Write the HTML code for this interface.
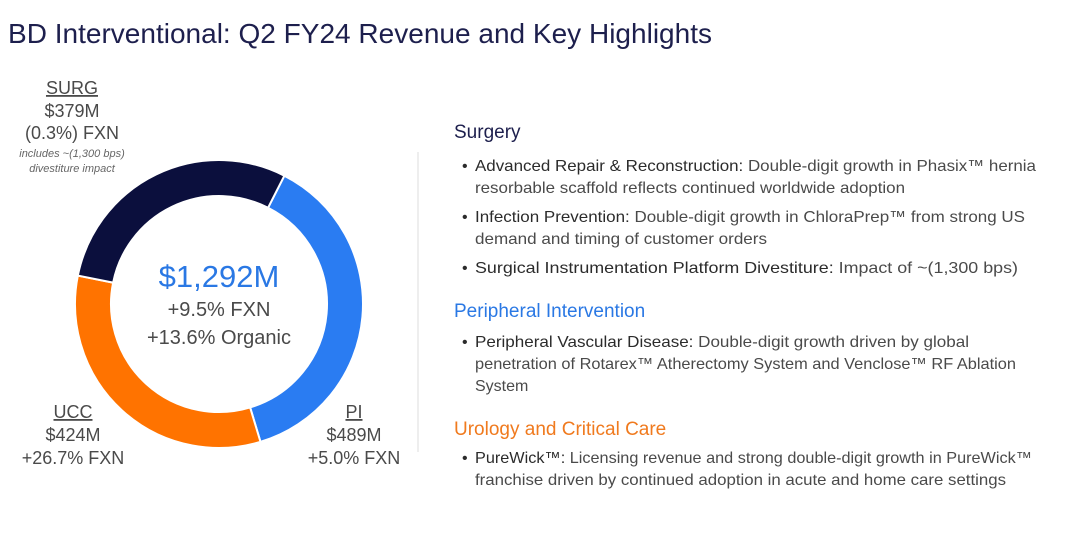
<!DOCTYPE html>
<html><head><meta charset="utf-8"><style>
html,body{margin:0;padding:0;background:#fff;}
svg{display:block;font-family:"Liberation Sans",sans-serif;}
.g{fill:#4a4a4a;}
.b{fill:#2b2b2b;}
</style></head><body>
<svg id="chart" width="1080" height="548" viewBox="0 0 1080 548">
<text x="8" y="43" font-size="28" fill="#1d1f4d" textLength="704" lengthAdjust="spacingAndGlyphs">BD Interventional: Q2 FY24 Revenue and Key Highlights</text>
<g id="donut"></g>
<g text-anchor="middle">
<text x="72" y="94" font-size="18" class="g" text-decoration="underline">SURG</text>
<text x="72" y="117" font-size="18" class="g">$379M</text>
<text x="72" y="139" font-size="18" class="g">(0.3%) FXN</text>
<text x="72" y="157" font-size="11" font-style="italic" fill="#666">includes ~(1,300 bps)</text>
<text x="72" y="172" font-size="11" font-style="italic" fill="#666">divestiture impact</text>
</g>
<g text-anchor="middle">
<text x="219" y="287" font-size="31" fill="#2a78e4">$1,292M</text>
<text x="219" y="316" font-size="20" class="g">+9.5% FXN</text>
<text x="219" y="344" font-size="20" class="g">+13.6% Organic</text>
</g>
<g text-anchor="middle">
<text x="73" y="418" font-size="18" class="g" text-decoration="underline">UCC</text>
<text x="73" y="441" font-size="18" class="g">$424M</text>
<text x="73" y="464" font-size="18" class="g">+26.7% FXN</text>
</g>
<g text-anchor="middle">
<text x="354" y="418" font-size="18" class="g" text-decoration="underline">PI</text>
<text x="354" y="441" font-size="18" class="g">$489M</text>
<text x="354" y="464" font-size="18" class="g">+5.0% FXN</text>
</g>
<rect x="417" y="152" width="2" height="300" fill="#eeeeee"/>
<g font-size="16">
<text x="454" y="138" font-size="19" fill="#1d1f4d">Surgery</text>
<text x="462" y="171" class="b">•</text>
<text x="475" y="171" class="g" textLength="561" lengthAdjust="spacingAndGlyphs"><tspan class="b">Advanced Repair &amp; Reconstruction:</tspan> Double-digit growth in Phasix™ hernia</text>
<text x="475" y="193" class="g" textLength="430" lengthAdjust="spacingAndGlyphs">resorbable scaffold reflects continued worldwide adoption</text>
<text x="462" y="222" class="b">•</text>
<text x="475" y="222" class="g" textLength="550" lengthAdjust="spacingAndGlyphs"><tspan class="b">Infection Prevention:</tspan> Double-digit growth in ChloraPrep™ from strong US</text>
<text x="475" y="244" class="g" textLength="292" lengthAdjust="spacingAndGlyphs">demand and timing of customer orders</text>
<text x="462" y="273" class="b">•</text>
<text x="475" y="273" class="g" textLength="543" lengthAdjust="spacingAndGlyphs"><tspan class="b">Surgical Instrumentation Platform Divestiture:</tspan> Impact of ~(1,300 bps)</text>
<text x="454" y="317" font-size="19" fill="#2a78e4">Peripheral Intervention</text>
<text x="462" y="347" class="b">•</text>
<text x="475" y="347" class="g" textLength="494" lengthAdjust="spacingAndGlyphs"><tspan class="b">Peripheral Vascular Disease:</tspan> Double-digit growth driven by global</text>
<text x="475" y="369" class="g" textLength="541" lengthAdjust="spacingAndGlyphs">penetration of Rotarex™ Atherectomy System and Venclose™ RF Ablation</text>
<text x="475" y="391" class="g">System</text>
<text x="454" y="435" font-size="19" fill="#f07a1e">Urology and Critical Care</text>
<text x="462" y="463" class="b">•</text>
<text x="475" y="463" class="g" textLength="557" lengthAdjust="spacingAndGlyphs"><tspan class="b">PureWick™:</tspan> Licensing revenue and strong double-digit growth in PureWick™</text>
<text x="475" y="485" class="g" textLength="531" lengthAdjust="spacingAndGlyphs">franchise driven by continued adoption in acute and home care settings</text>
</g>
</svg>
<script>
const categories = ["PI", "UCC", "SURG"];
const values = [489, 424, 379];
const colors = ["#2a7cf2", "#ff7300", "#0b0f3d"];
const startDeg = 27;
const cx = 219, cy = 304, rO = 144, rI = 108;
const g = document.getElementById('donut');
const total = values.reduce((a, b) => a + b, 0);
function pt(r, deg) {
  const a = (deg - 90) * Math.PI / 180;
  return [cx + r * Math.cos(a), cy + r * Math.sin(a)];
}
let acc = startDeg;
values.forEach((v, i) => {
  const sweep = v / total * 360;
  const a0 = acc, a1 = acc + sweep;
  const large = sweep > 180 ? 1 : 0;
  const p0 = pt(rO, a0), p1 = pt(rO, a1), p2 = pt(rI, a1), p3 = pt(rI, a0);
  const d = `M${p0[0]},${p0[1]} A${rO},${rO} 0 ${large} 1 ${p1[0]},${p1[1]} L${p2[0]},${p2[1]} A${rI},${rI} 0 ${large} 0 ${p3[0]},${p3[1]} Z`;
  const path = document.createElementNS('http://www.w3.org/2000/svg', 'path');
  path.setAttribute('d', d);
  path.setAttribute('fill', colors[i]);
  path.setAttribute('stroke', '#fff');
  path.setAttribute('stroke-width', '2');
  
  
  g.appendChild(path);
  acc = a1;
});
</script>
</body></html>
